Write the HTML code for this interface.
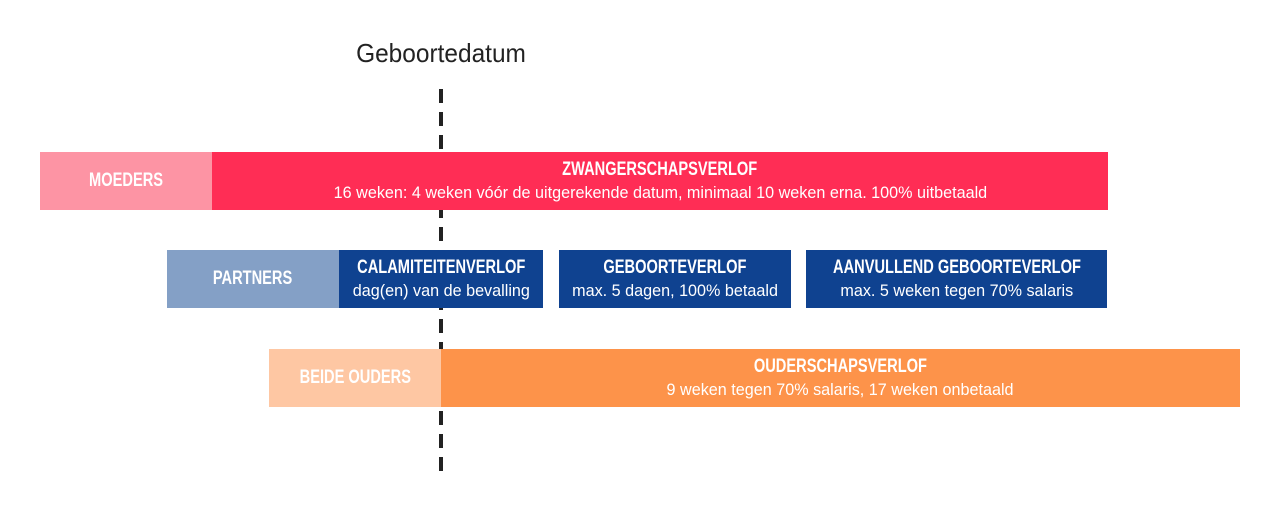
<!DOCTYPE html>
<html><head><meta charset="utf-8"><style>
body{margin:0;width:1280px;height:520px;background:#fff;position:relative;overflow:hidden;font-family:"Liberation Sans",sans-serif;}
.b{position:absolute;color:#fff;text-align:center;display:flex;flex-direction:column;justify-content:center;align-items:center;white-space:nowrap;}
.t{font-weight:bold;font-size:19px;line-height:24px;transform:scaleX(0.77);}
.s{font-size:16.5px;line-height:22px;transform:scaleX(0.98);}
.dash{position:absolute;left:439px;width:4px;background:repeating-linear-gradient(to bottom,#222 0 14px,transparent 14px 23px);top:89px;height:384px;}
</style></head><body>
<div style="position:absolute;left:341px;top:38px;width:200px;text-align:center;font-size:26px;color:#222;transform:scaleX(0.94);white-space:nowrap;">Geboortedatum</div>
<div class="dash"></div>
<div class="b" style="left:40px;top:152px;width:172px;height:58px;background:#fd94a4"><div class="t">MOEDERS</div></div>
<div class="b" style="left:212px;top:152px;width:896px;height:58px;background:#ff2d55"><div class="t">ZWANGERSCHAPSVERLOF</div><div class="s">16 weken: 4 weken vóór de uitgerekende datum, minimaal 10 weken erna. 100% uitbetaald</div></div>
<div class="b" style="left:167px;top:250px;width:172px;height:58px;background:#84a0c6"><div class="t">PARTNERS</div></div>
<div class="b" style="left:339px;top:250px;width:204px;height:58px;background:#0f4290"><div class="t">CALAMITEITENVERLOF</div><div class="s">dag(en) van de bevalling</div></div>
<div class="b" style="left:559px;top:250px;width:232px;height:58px;background:#0f4290"><div class="t">GEBOORTEVERLOF</div><div class="s">max. 5 dagen, 100% betaald</div></div>
<div class="b" style="left:806px;top:250px;width:301px;height:58px;background:#0f4290"><div class="t">AANVULLEND GEBOORTEVERLOF</div><div class="s">max. 5 weken tegen 70% salaris</div></div>
<div class="b" style="left:269px;top:349px;width:172px;height:58px;background:#fec7a3"><div class="t">BEIDE OUDERS</div></div>
<div class="b" style="left:441px;top:349px;width:799px;height:58px;background:#fd934a"><div class="t">OUDERSCHAPSVERLOF</div><div class="s">9 weken tegen 70% salaris, 17 weken onbetaald</div></div>
</body></html>
